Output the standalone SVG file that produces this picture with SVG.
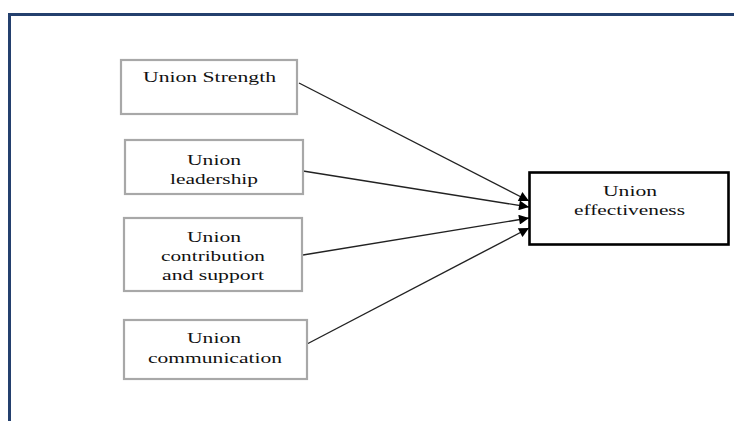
<svg xmlns="http://www.w3.org/2000/svg" width="734" height="421" viewBox="0 0 734 421">
<defs>
<style>
.frame{fill:none;stroke:#24406e;stroke-width:3}
.box{fill:#fff;stroke:#a8a8a8;stroke-width:2.2}
.target{fill:#fff;stroke:#000;stroke-width:2.6}
.t{font-family:'Liberation Serif','DejaVu Serif','Times New Roman',serif;font-size:15px;fill:#111;text-anchor:middle}
.c{stroke:#222;stroke-width:1.4;fill:none;marker-end:url(#ah)}
</style>
<marker id="ah" viewBox="0 0 10 10" refX="10" refY="5" markerWidth="12" markerHeight="10" markerUnits="userSpaceOnUse" orient="auto">
<path d="M0,0 L10,5 L0,10 z" fill="#000"/>
</marker>
</defs>
<rect width="734" height="421" fill="#fff"/>
<path class="frame" d="M9.5,421 V14.5 H734"/>
<g id="connectors">
<line class="c" x1="299" y1="83" x2="529" y2="201"/>
<line class="c" x1="303" y1="171" x2="529" y2="207"/>
<line class="c" x1="303" y1="255" x2="529" y2="218"/>
<line class="c" x1="307" y1="344" x2="529" y2="228"/>
</g>
<g id="n1">
<rect class="box" x="121" y="60" width="176" height="54"/>
<text class="t" x="209.5" y="82" textLength="133" lengthAdjust="spacingAndGlyphs">Union Strength</text>
</g>
<g id="n2">
<rect class="box" x="125" y="140" width="178" height="54"/>
<text class="t" x="214" y="165" textLength="54" lengthAdjust="spacingAndGlyphs">Union</text>
<text class="t" x="214" y="184" textLength="88" lengthAdjust="spacingAndGlyphs">leadership</text>
</g>
<g id="n3">
<rect class="box" x="124" y="218" width="178" height="73"/>
<text class="t" x="214" y="242" textLength="54" lengthAdjust="spacingAndGlyphs">Union</text>
<text class="t" x="213" y="261" textLength="104" lengthAdjust="spacingAndGlyphs">contribution</text>
<text class="t" x="213" y="280" textLength="102" lengthAdjust="spacingAndGlyphs">and support</text>
</g>
<g id="n4">
<rect class="box" x="124" y="320" width="183" height="59"/>
<text class="t" x="214" y="343" textLength="54" lengthAdjust="spacingAndGlyphs">Union</text>
<text class="t" x="215" y="363" textLength="134" lengthAdjust="spacingAndGlyphs">communication</text>
</g>
<g id="n5">
<rect class="target" x="529.5" y="172.5" width="199" height="72"/>
<text class="t" x="630" y="196" textLength="54" lengthAdjust="spacingAndGlyphs">Union</text>
<text class="t" x="629.5" y="215" textLength="111" lengthAdjust="spacingAndGlyphs">effectiveness</text>
</g>
</svg>
